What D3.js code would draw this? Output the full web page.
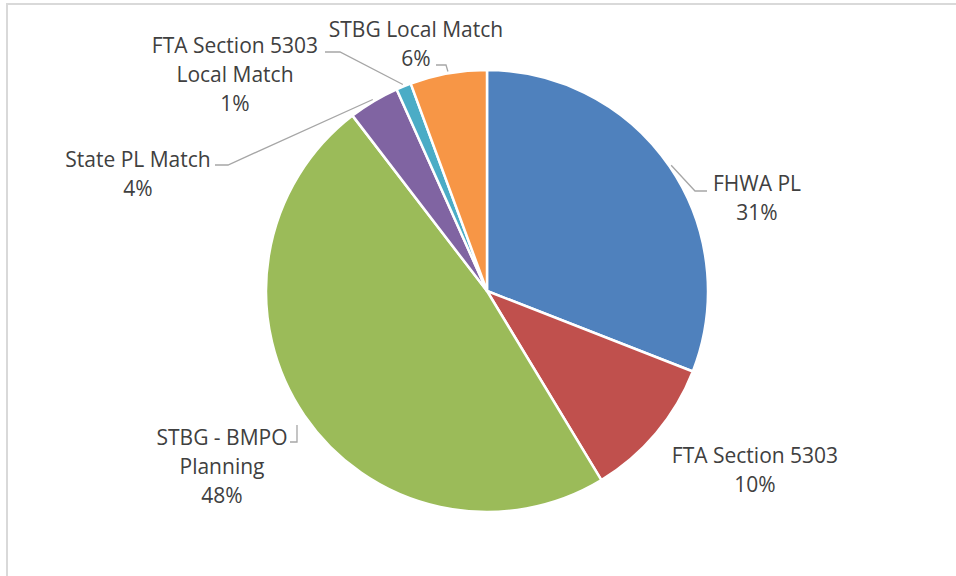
<!DOCTYPE html>
<html>
<head>
<meta charset="utf-8">
<script src="https://cdn.jsdelivr.net/npm/d3@7"></script>
<style>
  body { margin: 0; background: #fff; }
  text { font-family: "Open Sans", "Liberation Sans", sans-serif; fill: #404040; }
</style>
</head>
<body>
<div id="chart"></div>
<script>
// funding shares, clockwise from 12 o'clock
const categories = ['FHWA PL', 'FTA Section 5303', 'STBG - BMPO Planning', 'State PL Match', 'FTA Section 5303 Local Match', 'STBG Local Match']
const values = [30.9, 10.4, 48.2, 3.7, 1.1, 5.6]
const labelLines = [
    ['FHWA PL'],
    ['FTA Section 5303'],
    ['STBG - BMPO', 'Planning'],
    ['State PL Match'],
    ['FTA Section 5303', 'Local Match'],
    ['STBG Local Match']
]
const colors = ['#4f81bd', '#c0504d', '#9bbb59', '#8064a2', '#4bacc6', '#f79646']

// label centre (first line) and leader points, null where Excel drew none
const labelPos = [
    {x: 757, y: 184, leader: [[707, 191], [695, 191]]},
    {x: 755, y: 456, leader: null},
    {x: 222, y: 438, leader: [[290, 442], [297, 442]], end: [297, 425]},
    {x: 138, y: 160, leader: [[215, 165], [228, 165]]},
    {x: 235, y: 46, leader: [[325, 52], [340, 52]]},
    {x: 416, y: 30, leader: [[436, 65], [446, 65]]}
]

const width = 956
const height = 576
const cx = 487
const cy = 291
const radius = 221
const lineHeight = 29

const svg = d3.select('#chart').append('svg')
    .attr('width', width)
    .attr('height', height)

// chart area border (only top and left are in frame)
svg.append('path')
    .attr('d', `M7,${height} V4 H${width}`)
    .attr('fill', 'none')
    .attr('stroke', '#d9d9d9')
    .attr('stroke-width', 2)

const total = d3.sum(values)
const pie = d3.pie().sort(null).value(d => d)
const arcs = pie(values)
const arc = d3.arc().innerRadius(0).outerRadius(radius)

const plot = svg.append('g')
    .attr('transform', `translate(${cx}, ${cy})`)

plot.selectAll('path.slice')
    .data(arcs)
    .enter().append('path')
    .attr('class', 'slice')
    .attr('d', arc)
    .attr('fill', (d, i) => colors[i])
    .attr('stroke', '#fff')
    .attr('stroke-width', 2.5)
    .attr('stroke-linejoin', 'round')

// leader lines
const line = d3.line()
svg.append('g').selectAll('path')
    .data(arcs.filter((d, i) => labelPos[i].leader))
    .enter().append('path')
    .attr('d', d => {
        const p = labelPos[d.index]
        const mid = (d.startAngle + d.endAngle) / 2
        const end = p.end || [cx + Math.sin(mid) * (radius + 2), cy - Math.cos(mid) * (radius + 2)]
        return line(p.leader.concat([end]))
    })
    .attr('fill', 'none')
    .attr('stroke', '#a6a6a6')
    .attr('stroke-width', 1.3)

// labels
const labels = svg.append('g').selectAll('text')
    .data(arcs)
    .enter().append('text')
    .attr('text-anchor', 'middle')
    .attr('font-size', 21)

labels.each(function (d, i) {
    const t = d3.select(this)
    const rows = labelLines[i].concat([Math.round(d.value / total * 100) + '%'])
    rows.forEach((r, j) => {
        t.append('tspan')
            .attr('x', labelPos[i].x)
            .attr('y', labelPos[i].y + j * lineHeight + 7)
            .text(r)
    })
})
</script>
</body>
</html>
